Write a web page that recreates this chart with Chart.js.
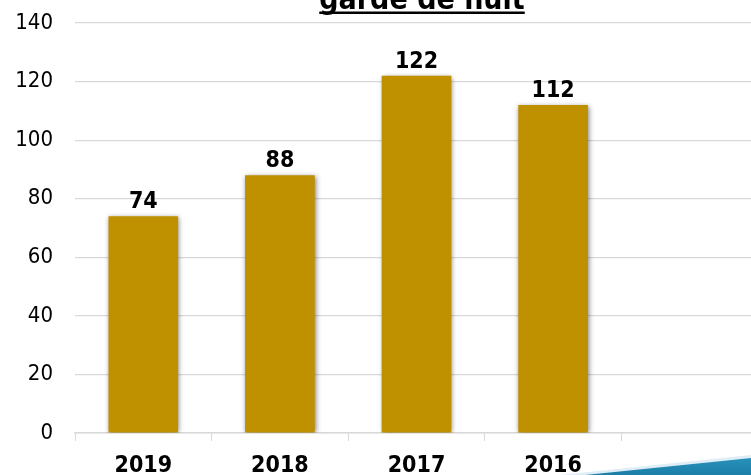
<!DOCTYPE html>
<html>
<head>
<meta charset="utf-8">
<script src="https://cdn.jsdelivr.net/npm/chart.js@4"></script>
<style>
  html, body { margin: 0; padding: 0; background: #ffffff; overflow: hidden; }
  #wrap { position: absolute; left: 0; top: 0; width: 759px; height: 475px; }
</style>
</head>
<body>
<div id="wrap"><canvas id="chart"></canvas></div>
<script>
// Night-shift counts per year
const categories = ['2019', '2018', '2017', '2016', ''];
const nightShifts = [74, 88, 122, 112, null];
const yTickValues = [0, 20, 40, 60, 80, 100, 120, 140];
const chartTitle = 'garde de nuit';

const FONT = "'DejaVu Sans Condensed', 'DejaVu Sans', sans-serif";
const GRID = '#d9d9d9';

// Soft drop shadow behind the bars
const barShadow = {
  id: 'barShadow',
  beforeDatasetsDraw(chart) {
    const ctx = chart.ctx;
    ctx.save();
    ctx.shadowColor = 'rgba(0,0,0,0.5)';
    ctx.shadowBlur = 5;
    ctx.shadowOffsetX = 1;
    ctx.shadowOffsetY = 1;
  },
  afterDatasetsDraw(chart) {
    chart.ctx.restore();
  }
};

// Bold value labels above each bar
const valueLabels = {
  id: 'valueLabels',
  afterDatasetsDraw(chart) {
    const ctx = chart.ctx;
    const meta = chart.getDatasetMeta(0);
    ctx.save();
    ctx.font = 'bold 23px ' + FONT;
    ctx.fillStyle = '#000000';
    ctx.textAlign = 'center';
    ctx.textBaseline = 'alphabetic';
    meta.data.forEach((bar, i) => {
      const v = chart.data.datasets[0].data[i];
      if (v == null) return;
      ctx.fillText(String(v), bar.x, bar.y - 8);
    });
    ctx.restore();
  }
};

// Underlined title at the top and the blue swoosh in the corner
const decorations = {
  id: 'decorations',
  afterDraw(chart) {
    const ctx = chart.ctx;
    ctx.save();
    ctx.font = 'bold 30px ' + FONT;
    ctx.fillStyle = '#000000';
    ctx.textAlign = 'center';
    ctx.textBaseline = 'alphabetic';
    const cx = 422, by = 9;
    ctx.fillText(chartTitle, cx, by);
    const w = ctx.measureText(chartTitle).width;
    ctx.fillRect(cx - w / 2, by + 2.5, w, 2.5);

    const grad = ctx.createLinearGradient(0, 456, 0, 475);
    grad.addColorStop(0, '#2a93bd');
    grad.addColorStop(1, '#1b7fa8');
    ctx.fillStyle = 'rgba(200,225,240,0.6)';
    ctx.beginPath();
    ctx.moveTo(560, 475);
    ctx.lineTo(751, 455);
    ctx.lineTo(751, 458);
    ctx.lineTo(585, 475);
    ctx.closePath();
    ctx.fill();
    ctx.fillStyle = grad;
    ctx.beginPath();
    ctx.moveTo(585, 475);
    ctx.lineTo(751, 458);
    ctx.lineTo(751, 475);
    ctx.closePath();
    ctx.fill();
    ctx.restore();
  }
};

new Chart(document.getElementById('chart'), {
  type: 'bar',
  data: {
    labels: categories,
    datasets: [{
      data: nightShifts,
      backgroundColor: '#bf9000',
      borderWidth: 0,
      categoryPercentage: 1.0,
      barPercentage: 0.51
    }]
  },
  options: {
    responsive: true,
    maintainAspectRatio: false,
    animation: false,
    layout: { padding: { top: 23, left: 0, right: 1, bottom: 0 } },
    plugins: {
      legend: { display: false },
      title: { display: false },
      tooltip: { enabled: false }
    },
    scales: {
      x: {
        grid: {
          display: true,
          drawOnChartArea: false,
          drawTicks: true,
          tickLength: 8,
          color: GRID,
          offset: true
        },
        border: { display: true, color: GRID, width: 1.5 },
        ticks: {
          color: '#000000',
          font: { family: FONT, size: 23, weight: 'bold' },
          padding: 11,
          maxRotation: 0
        },
        afterFit(scale) {
          scale.height = 42;
          scale.paddingLeft = 0;
          scale.paddingRight = 0;
        }
      },
      y: {
        min: 0,
        max: 140,
        afterBuildTicks(scale) {
          scale.ticks = yTickValues.map(v => ({ value: v }));
        },
        grid: { color: GRID, lineWidth: 1.2, drawTicks: false },
        border: { display: false },
        ticks: {
          color: '#000000',
          font: { family: FONT, size: 22 },
          padding: 22
        },
        afterFit(scale) {
          scale.width = 75;
          scale.paddingTop = 0;
          scale.paddingBottom = 0;
        }
      }
    }
  },
  plugins: [barShadow, valueLabels, decorations]
});
</script>
</body>
</html>
